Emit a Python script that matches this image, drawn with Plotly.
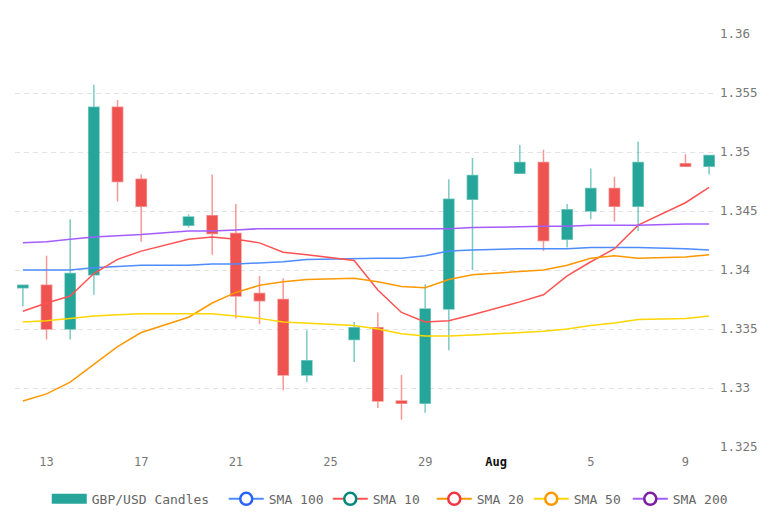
"""GBP/USD daily candles with simple moving averages (Plotly)."""

import plotly.graph_objects as go

# --- data ---
dates = ["2026-07-12", "2026-07-13", "2026-07-14", "2026-07-15", "2026-07-16", "2026-07-17",
         "2026-07-19", "2026-07-20", "2026-07-21", "2026-07-22", "2026-07-23", "2026-07-24",
         "2026-07-26", "2026-07-27", "2026-07-28", "2026-07-29", "2026-07-30", "2026-07-31",
         "2026-08-02", "2026-08-03", "2026-08-04", "2026-08-05", "2026-08-06", "2026-08-07",
         "2026-08-09", "2026-08-10"]

open_ = [1.3385, 1.3387, 1.3350, 1.3396, 1.3538, 1.3477, 1.3438, 1.3446, 1.3431, 1.3380, 1.3375, 1.3311, 1.3341,
         1.3351, 1.3289, 1.3287, 1.3367, 1.3460, 1.3482, 1.3491, 1.3426, 1.3450, 1.3469, 1.3454, 1.3490, 1.3488]
high = [1.3387, 1.3412, 1.3443, 1.3557, 1.3544, 1.3481, 1.3447, 1.3481, 1.3456, 1.3395, 1.3393, 1.3349, 1.3356,
        1.3364, 1.3311, 1.3388, 1.3477, 1.3495, 1.3506, 1.3502, 1.3456, 1.3486, 1.3479, 1.3509, 1.3498, 1.3497]
low = [1.3369, 1.3341, 1.3341, 1.3379, 1.3458, 1.3424, 1.3436, 1.3413, 1.3359, 1.3354, 1.3298, 1.3305, 1.3322,
       1.3283, 1.3273, 1.3279, 1.3332, 1.3400, 1.3482, 1.3416, 1.3419, 1.3443, 1.3441, 1.3433, 1.3488, 1.3481]
close = [1.3387, 1.3350, 1.3397, 1.3538, 1.3475, 1.3454, 1.3445, 1.3431, 1.3378, 1.3374, 1.3311, 1.3323, 1.3351,
         1.3289, 1.3287, 1.3367, 1.3460, 1.3480, 1.3491, 1.3425, 1.3451, 1.3469, 1.3454, 1.3491, 1.3488, 1.3497]

sma10 = [1.3365, 1.3372, 1.3378, 1.3397, 1.3409, 1.3416, 1.3426, 1.3428, 1.3426, 1.3423, 1.3415, 1.3413, 1.3408,
         1.3383, 1.3364, 1.3356, 1.3357, 1.3362, 1.3373, 1.3379, 1.3395, 1.3407, 1.3418, 1.3438, 1.3457, 1.3470]
sma20 = [1.3289, 1.3295, 1.3305, 1.3320, 1.3335, 1.3347, 1.3360, 1.3372, 1.3381, 1.3387, 1.3390, 1.3392, 1.3393,
         1.3390, 1.3386, 1.3385, 1.3392, 1.3396, 1.3399, 1.3400, 1.3404, 1.3410, 1.3412, 1.3410, 1.3411, 1.3413]
sma50 = [1.3356, 1.3357, 1.3359, 1.3361, 1.3362, 1.3363, 1.3363, 1.3363, 1.3361, 1.3359, 1.3356, 1.3355, 1.3353,
         1.3350, 1.3346, 1.3344, 1.3344, 1.3345, 1.3347, 1.3348, 1.3350, 1.3353, 1.3355, 1.3358, 1.3359, 1.3361]
sma100 = [1.3400, 1.3400, 1.3400, 1.3402, 1.3403, 1.3404, 1.3404, 1.3405, 1.3405, 1.3406, 1.3407, 1.3409, 1.3410,
          1.3410, 1.3410, 1.3412, 1.3416, 1.3417, 1.3418, 1.3418, 1.3418, 1.3419, 1.3419, 1.3419, 1.3418, 1.3417]
sma200 = [1.3423, 1.3424, 1.3426, 1.3428, 1.3429, 1.3430, 1.3433, 1.3433, 1.3434, 1.3435, 1.3435, 1.3435, 1.3435,
          1.3435, 1.3435, 1.3435, 1.3435, 1.3436, 1.3437, 1.3437, 1.3437, 1.3438, 1.3438, 1.3438, 1.3439, 1.3439]

tick_dates = ["2026-07-13", "2026-07-17", "2026-07-21", "2026-07-25", "2026-07-29",
              "2026-08-01", "2026-08-05", "2026-08-09"]
tick_text = ["13", "17", "21", "25", "29", "<span style='color:#111'><b>Aug</b></span>", "5", "9"]

FONT = "DejaVu Sans Mono"
UP, DOWN = "#26a69a", "#ef5350"

fig = go.Figure()

fig.add_trace(go.Candlestick(
    x=dates, open=open_, high=high, low=low, close=close,
    name="GBP/USD Candles", showlegend=False,
    increasing=dict(line=dict(color="rgba(38,166,154,0.6)", width=1.5), fillcolor=UP),
    decreasing=dict(line=dict(color="rgba(239,83,80,0.6)", width=1.5), fillcolor=DOWN),
    whiskerwidth=0,
))

# (name, values, line colour, legend marker colour, legend entry width)
# legend markers differ from the line colours in the original
smas = [
    ("SMA 100", sma100, "#4d8cff", "#2962ff", 54),
    ("SMA 10", sma10, "#ff5252", "#00897b", 54),
    ("SMA 20", sma20, "#ff9800", "#f23645", 47),
    ("SMA 50", sma50, "#ffd600", "#ff9800", 49),
    ("SMA 200", sma200, "#a35cff", "#7b1fa2", None),
]

for name, vals, lc, mc, lw in smas:
    fig.add_trace(go.Scatter(x=dates, y=vals, mode="lines", name=name,
                             line=dict(color=lc, width=1.5), showlegend=False, hoverinfo="skip"))

# legend-only entries
fig.add_trace(go.Scatter(x=[None], y=[None], mode="lines", name="GBP/USD Candles",
                         line=dict(color=UP, width=18), legendwidth=127))
for name, vals, lc, mc, lw in smas:
    fig.add_trace(go.Scatter(x=[None], y=[None], mode="lines+markers", name=name,
                             line=dict(color=lc, width=2), legendwidth=lw,
                             marker=dict(size=12, color="white", line=dict(color=mc, width=2.5))))

fig.update_layout(
    width=762, height=506,
    margin=dict(l=7, r=53, t=26, b=67, autoexpand=False),
    paper_bgcolor="white", plot_bgcolor="white",
    font=dict(family=FONT, size=12, color="#777"),
    boxgap=0.38,
    showlegend=True,
    legend=dict(orientation="h", xref="container", x=0.501, xanchor="center",
                yref="container", y=0.03, yanchor="middle",
                font=dict(family=FONT, size=13, color="#666"), itemwidth=35),
    xaxis=dict(
        type="date",
        range=["2026-07-11 16:00", "2026-08-10 08:00"],
        tickvals=tick_dates, ticktext=tick_text,
        showgrid=False, zeroline=False, showline=False,
        rangeslider=dict(visible=False),
        tickfont=dict(family=FONT, size=12, color="#777"),
        ticks="", ticklabelstandoff=6,
    ),
    yaxis=dict(
        side="right",
        range=[1.325, 1.36], dtick=0.005, tick0=1.325,
        showgrid=True, gridcolor="#e3e3e3", griddash="5px,4px", gridwidth=1,
        zeroline=False, showline=False, ticks="",
        tickfont=dict(family=FONT, size=12.5, color="#777"),
        ticklabelstandoff=2,
    ),
)

fig.write_html("out.html")
